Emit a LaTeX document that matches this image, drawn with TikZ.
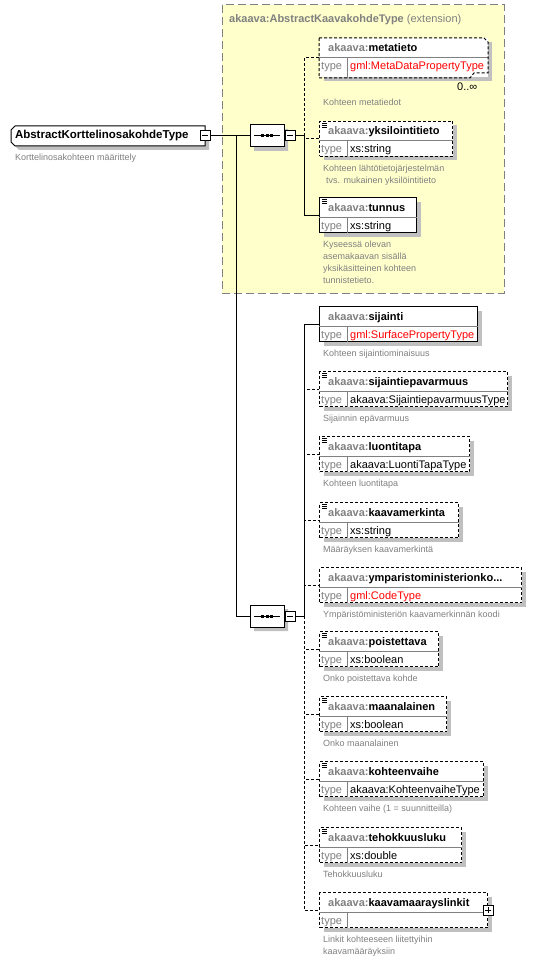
\documentclass[tikz,border=0pt]{standalone}
\usepackage{fontspec}
\setmainfont{Liberation Sans}
\usetikzlibrary{shapes,positioning,shadows}
\definecolor{amarillo}{HTML}{FFFFCC}
\definecolor{gris}{HTML}{808080}
\definecolor{sombragris}{HTML}{C0C0C0}
\definecolor{rojo}{HTML}{FF0000}
\tikzstyle{sombra} = [drop shadow={shadow xshift=4pt, shadow yshift=-4pt, fill=sombragris, opacity=1}]
\tikzstyle{caja} = [draw, fill=white, rectangle, line width=1pt, minimum height=35pt, inner sep=0pt, sombra]
\tikzstyle{opcional} = [dash pattern=on 3pt off 2pt]
\tikzstyle{conector} = [line width=1pt]
\tikzstyle{divisor} = [draw=gris, line width=1pt]
\tikzstyle{cabecera} = [inner sep=0pt, anchor=base west, font=\fontsize{11}{13}\selectfont\bfseries]
\tikzstyle{tipo} = [inner sep=0pt, anchor=base west, font=\fontsize{11}{13}\selectfont]
\tikzstyle{nota} = [inner sep=0pt, anchor=north west, align=left, text=gris, font=\fontsize{9}{12}\selectfont]
\tikzstyle{secuencia} = [draw, fill=white, line width=1pt, chamfered rectangle, chamfered rectangle xsep=5pt, chamfered rectangle ysep=5pt, minimum width=34pt, minimum height=22pt, inner sep=0pt, sombra]
\tikzstyle{raiz} = [rectangle, minimum width=194pt, minimum height=20pt, inner xsep=4pt, inner ysep=0pt, text width=186pt, align=left, font=\fontsize{11.5}{13}\selectfont\bfseries]
\tikzstyle{boton} = [draw, fill=white, rectangle, minimum size=10pt, inner sep=0pt, line width=1pt]
\tikzstyle{extension} = [draw=gris, fill=amarillo, line width=1pt, dash pattern=on 8pt off 4pt]
% caja de un elemento: nombre, tope, borde derecho, etiqueta, tipo, color del tipo, estilo, icono, nota
\newcommand{\elemento}[9]{%
  \node[caja,#7,minimum width={#3pt-319pt},anchor=north west] (#1) at (319,#2) {};
  \draw[divisor] ([yshift=-20pt]#1.north west) -- ([yshift=-20pt]#1.north east);
  \draw[divisor] ([xshift=28pt,yshift=-20pt]#1.north west) -- ([xshift=28pt]#1.south west);
  \node[cabecera] (#1-nombre) at ([xshift=9pt,yshift=-14pt]#1.north west) {\textcolor{gris}{akaava:}#4};
  \node[tipo,text=gris] (#1-tipo) at ([xshift=2pt,yshift=-32pt]#1.north west) {type};
  \node[tipo,text=#6] (#1-valor) at ([xshift=31pt,yshift=-32pt]#1.north west) {#5};
  #8{#1}
  \node[nota] (#1-nota) at ([xshift=4pt,yshift=-8pt]#1.south west) {#9};
}
\newcommand{\conicono}[1]{\foreach \d in {2,4,6} \draw[line width=0.8pt] ([xshift=3pt,yshift={-\d*1pt}]#1.north west) -- ++(5,0);}
\newcommand{\sinicono}[1]{}
\newcommand{\menos}[1]{\draw[line width=1pt] ([xshift=-3pt]#1.center) -- ([xshift=3pt]#1.center);}
\newcommand{\mas}[1]{\menos{#1}\draw[line width=1pt] ([yshift=-3pt]#1.center) -- ([yshift=3pt]#1.center);}
\newcommand{\puntos}[1]{\draw[line width=1pt] ([xshift=-13pt]#1.center) -- ([xshift=13pt]#1.center);
  \foreach \d in {-4.5,0,4.5} \fill ([xshift=\d*1pt]#1.center) +(-1.5,-1.5) rectangle +(1.5,1.5);}

\begin{document}
\begin{tikzpicture}[x=1pt,y=-1pt]
\useasboundingbox (0,0) rectangle (549,960);
\fill[white] (0,0) rectangle (549,960);

% tipo base (extension)
\draw[extension] (222,5) rectangle (504,293);
\node[cabecera,text=gris] (extension) at (229,23) {akaava:AbstractKaavakohdeType \textmd{(extension)}};

% raiz
\fill[sombragris] (19,130) -- (209,130) -- (209,150) -- (19,150) -- (15,146) -- (15,134) -- cycle;
\draw[fill=white,line width=1pt] (15,126) -- (205,126) -- (205,146) -- (15,146) -- (11,142) -- (11,130) -- cycle;
\node[raiz] (raiz) at (108,136) {AbstractKorttelinosakohdeType};
\node[boton] (menosraiz) at (raiz.east) {};
\menos{menosraiz}
\node[nota] (raiz-nota) at ([xshift=4pt,yshift=-8pt]raiz.south west) {Korttelinosakohteen määrittely};

% secuencias
\node[secuencia] (secuencia1) at (267,136) {};
\puntos{secuencia1}
\node[boton, anchor=west] (menos1) at (secuencia1.east) {};
\menos{menos1}
\node[secuencia] (secuencia2) at (267,616) {};
\puntos{secuencia2}
\node[boton, anchor=west] (menos2) at (secuencia2.east) {};
\menos{menos2}

% elementos heredados
\elemento{metatieto}{38}{487}{metatieto}{gml:MetaDataPropertyType}{rojo}{draw=none,minimum height=39pt}{\sinicono}{}
\draw[line width=1pt,opcional] (metatieto.north west) -- ([xshift=-4pt]metatieto.north east) -- ([yshift=-4pt]metatieto.north east) -- ([yshift=5pt]metatieto.south east) -- ([xshift=-14pt,yshift=5pt]metatieto.south east) -- ([xshift=-18pt]metatieto.south east) -- (metatieto.south west) -- cycle;
\node[tipo] (metatieto-max) at (457,91) {0..∞};
\node[nota] (metatieto-nota) at ([xshift=4pt,yshift=-21pt]metatieto.south west) {Kohteen metatiedot};
\elemento{yksilointitieto}{121}{452}{yksilointitieto}{xs:string}{black}{opcional}{\conicono}{Kohteen lähtötietojärjestelmän\\\hspace{3pt}tvs. mukainen yksilöintitieto}
\elemento{tunnus}{197}{416}{tunnus}{xs:string}{black}{}{\conicono}{Kyseessä olevan\\asemakaavan sisällä\\yksikäsitteinen kohteen\\tunnistetieto.}

% elementos propios
\elemento{sijainti}{306}{477}{sijainti}{gml:SurfacePropertyType}{rojo}{}{\sinicono}{Kohteen sijaintiominaisuus}
\elemento{sijaintiepavarmuus}{371}{507}{sijaintiepavarmuus}{akaava:SijaintiepavarmuusType}{black}{opcional}{\conicono}{Sijainnin epävarmuus}
\elemento{luontitapa}{436}{469}{luontitapa}{akaava:LuontiTapaType}{black}{opcional}{\conicono}{Kohteen luontitapa}
\elemento{kaavamerkinta}{502}{458}{kaavamerkinta}{xs:string}{black}{opcional}{\conicono}{Määräyksen kaavamerkintä}
\elemento{ymparistoministerionkoodi}{567}{521}{ymparistoministerionko...}{gml:CodeType}{rojo}{opcional}{\sinicono}{Ympäristöministeriön kaavamerkinnän koodi}
\elemento{poistettava}{631}{438}{poistettava}{xs:boolean}{black}{opcional}{\conicono}{Onko poistettava kohde}
\elemento{maanalainen}{696}{446}{maanalainen}{xs:boolean}{black}{opcional}{\conicono}{Onko maanalainen}
\elemento{kohteenvaihe}{761}{483}{kohteenvaihe}{akaava:KohteenvaiheType}{black}{opcional}{\conicono}{Kohteen vaihe (1 = suunnitteilla)}
\elemento{tehokkuusluku}{827}{461}{tehokkuusluku}{xs:double}{black}{opcional}{\conicono}{Tehokkuusluku}
\elemento{kaavamaarayslinkit}{892}{487}{kaavamaarayslinkit}{}{black}{opcional}{\sinicono}{Linkit kohteeseen liitettyihin\\kaavamääräyksiin}
\node[boton] (maslinkit) at (kaavamaarayslinkit.east) {};
\mas{maslinkit}

% conectores
\coordinate (rama0) at (236,136);
\coordinate (rama1) at (304,136);
\coordinate (rama2) at (304,616);
\draw[conector] (menosraiz.east) -- (secuencia1.west);
\draw[conector] (rama0) |- (secuencia2.west);
\draw[conector] (menos1.east) -- (rama1);
\draw[conector,opcional] (rama1) |- (metatieto.west);
\draw[conector,opcional] (rama1) |- (yksilointitieto.west);
\draw[conector] (rama1) |- (tunnus.west);
\draw[conector] (menos2.east) -- (rama2);
\draw[conector] (rama2) |- (sijainti.west);
\foreach \e in {sijaintiepavarmuus,luontitapa,kaavamerkinta,ymparistoministerionkoodi,poistettava,maanalainen,kohteenvaihe,tehokkuusluku,kaavamaarayslinkit}
  \draw[conector,opcional] (rama2) |- (\e.west);
\end{tikzpicture}
\end{document}
